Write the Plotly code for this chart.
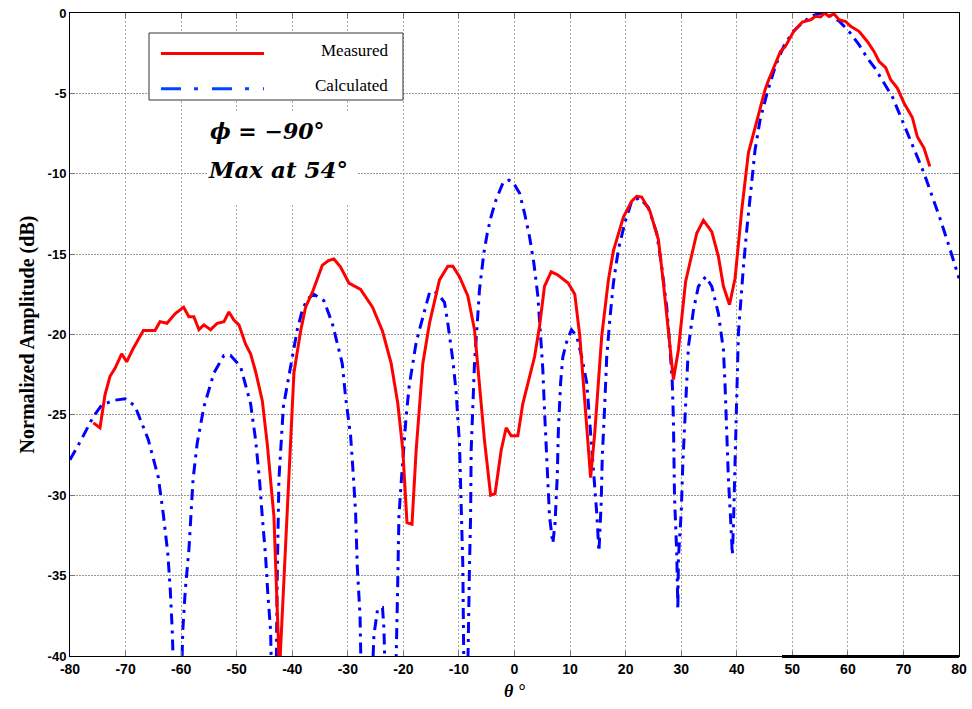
import plotly.graph_objects as go

# ---- data ----
theta_measured = [-75.8, -74.6, -73.7, -72.8, -71.9, -70.7, -69.8, -68.6, -66.8, -64.7,
                  -63.8, -62.55, -61.05, -59.55, -58.6, -57.7, -56.8, -55.9, -54.7, -53.5,
                  -52.3, -51.4, -50.5, -49.6, -48.4, -47.5, -46.6, -45.4, -44.5, -43.3,
                  -42.3, -41.0, -39.7, -38.5, -37.6, -36.4, -34.6, -33.5, -32.5, -31.3,
                  -29.8, -27.7, -25.55, -23.75, -22.2, -21.0, -20.1, -19.35, -18.45, -17.7,
                  -16.5, -15.3, -13.5, -12.0, -11.1, -9.9, -8.4, -7.2, -6.3, -5.4,
                  -4.3, -3.5, -2.4, -1.5, -0.6, 0.6, 1.5, 3.6, 4.5, 5.4,
                  6.6, 7.8, 9.65, 10.85, 11.75, 12.96, 13.7, 14.45, 15.7, 16.9,
                  17.8, 19.6, 21.1, 22.0, 22.9, 24.4, 25.9, 26.8, 27.7, 28.6,
                  29.5, 30.8, 32.8, 34.0, 35.5, 36.7, 37.6, 38.7, 39.7, 40.9,
                  42.1, 43.65, 45.1, 45.75, 47.85, 48.75, 50.25, 51.8, 53.3, 54.2,
                  55.1, 55.8, 56.6, 57.5, 58.4, 59.6, 60.5, 62.0, 63.5, 64.7,
                  65.6, 66.8, 67.7, 68.9, 70.1, 71.6, 72.5, 73.7, 74.75]
amp_measured = [-25.5, -25.8, -23.75, -22.6, -22.1, -21.2, -21.7, -20.85, -19.75, -19.75,
                -19.2, -19.3, -18.7, -18.3, -18.9, -18.9, -19.7, -19.4, -19.7, -19.3,
                -19.2, -18.6, -19.1, -19.4, -20.6, -21.2, -22.3, -24.1, -26.8, -31.3,
                -41.0, -31.5, -22.4, -19.8, -18.3, -17.4, -15.7, -15.4, -15.3, -15.8,
                -16.8, -17.2, -18.3, -19.8, -21.8, -24.3, -27.2, -31.7, -31.8, -27.2,
                -21.8, -19.3, -16.6, -15.75, -15.75, -16.4, -17.6, -19.7, -23.0, -26.6,
                -30.0, -29.9, -27.2, -25.8, -26.3, -26.3, -24.3, -21.4, -19.5, -17.0,
                -16.1, -16.3, -16.8, -17.5, -20.1, -25.5, -28.9, -26.1, -20.1, -16.6,
                -14.8, -12.7, -11.7, -11.4, -11.45, -12.35, -14.1, -16.8, -19.9, -22.8,
                -20.95, -16.7, -13.7, -12.9, -13.6, -15.15, -17.0, -18.15, -16.5, -12.25,
                -8.7, -6.65, -4.77, -4.15, -2.4, -2.08, -1.14, -0.56, -0.42, -0.21,
                -0.25, 0.0, -0.21, -0.05, -0.42, -0.53, -0.83, -1.14, -1.77, -2.39,
                -3.0, -3.4, -4.15, -4.67, -5.6, -6.5, -7.7, -8.4, -9.55]

theta_calculated = [-80.0, -77.9, -75.8, -74.3, -72.2, -70.1, -68.3, -65.9, -64.1, -63.2,
                    -62.4, -61.95, -61.6, -61.0, -60.2, -59.7, -59.25, -58.6, -57.85, -57.1,
                    -55.9, -54.1, -52.3, -51.1, -49.3, -47.5, -46.6, -45.9, -45.4, -44.8,
                    -44.4, -43.9, -43.5, -43.0, -42.7, -42.4, -41.6, -40.3, -39.1, -38.2,
                    -37.3, -36.1, -34.3, -32.8, -31.0, -30.4, -29.5, -29.0, -28.6, -28.3,
                    -27.8, -27.4, -26.0, -25.3, -24.65, -23.75, -23.5, -23.0, -21.6, -21.05,
                    -20.8, -20.35, -19.5, -18.95, -18.35, -17.7, -17.1, -16.2, -15.3, -14.4,
                    -13.5, -12.6, -12.0, -11.1, -10.5, -9.9, -9.6, -9.3, -9.0, -8.6,
                    -8.1, -7.9, -7.8, -7.5, -7.2, -6.7, -6.3, -5.5, -4.9, -4.2,
                    -3.3, -2.0, -1.0, -0.3, 0.9, 1.8, 2.7, 3.5, 4.2, 4.7,
                    5.1, 5.4, 5.7, 6.0, 6.3, 6.9, 7.3, 7.7, 7.9, 8.3,
                    8.7, 9.35, 10.25, 11.2, 12.1, 13.0, 13.6, 14.2, 14.8, 15.2,
                    15.6, 15.8, 16.2, 16.6, 17.2, 17.8, 18.7, 19.9, 21.1, 22.5,
                    24.1, 25.6, 26.5, 27.4, 28.0, 28.4, 28.6, 28.8, 29.2, 29.4,
                    29.5, 30.0, 30.3, 30.7, 31.0, 31.3, 32.2, 33.1, 34.4, 35.5,
                    36.7, 37.6, 37.9, 38.2, 38.5, 38.9, 39.2, 39.4, 39.6, 39.85,
                    40.0, 40.3, 40.7, 41.2, 41.8, 42.6, 43.3, 44.2, 45.45, 46.95,
                    48.45, 49.95, 51.8, 53.6, 55.1, 56.6, 58.4, 60.2, 62.0, 63.5,
                    65.0, 66.5, 68.0, 69.2, 70.7, 72.2, 73.7, 75.2, 76.7, 78.2,
                    79.4, 80.0]
amp_calculated = [-27.8, -26.5, -25.1, -24.4, -24.1, -24.0, -24.45, -26.55, -28.9, -31.2,
                  -33.6, -35.9, -38.4, -45.0, -45.0, -38.4, -35.9, -33.4, -29.0, -26.75,
                  -24.5, -22.4, -21.3, -21.3, -22.0, -24.3, -26.55, -29.0, -31.3, -33.8,
                  -36.1, -38.4, -45.0, -45.0, -35.0, -29.0, -24.5, -22.0, -19.7, -18.5,
                  -17.8, -17.5, -17.9, -19.3, -21.8, -23.9, -26.3, -28.8, -31.1, -34.4,
                  -37.5, -45.0, -45.0, -38.7, -37.1, -37.0, -38.3, -45.0, -45.0, -36.1,
                  -31.3, -29.0, -25.1, -23.2, -21.9, -20.5, -19.7, -18.5, -17.4, -17.3,
                  -17.6, -18.0, -19.3, -21.6, -23.6, -26.8, -30.3, -34.4, -45.0, -45.0,
                  -34.4, -31.3, -27.2, -24.3, -21.8, -19.3, -17.2, -14.9, -13.7, -12.65,
                  -11.6, -10.5, -10.4, -10.5, -11.2, -12.45, -13.9, -15.6, -17.6, -20.1,
                  -22.2, -24.7, -27.2, -29.25, -31.3, -33.0, -31.7, -28.8, -25.9, -23.0,
                  -21.4, -20.5, -19.7, -20.1, -21.4, -23.0, -25.5, -28.4, -31.1, -33.5,
                  -30.5, -27.6, -24.7, -21.4, -18.9, -16.8, -14.7, -13.0, -11.7, -11.5,
                  -12.1, -13.7, -15.8, -18.3, -20.95, -23.0, -25.3, -30.1, -33.6, -37.1,
                  -33.9, -31.1, -28.0, -24.9, -23.1, -20.75, -18.5, -17.0, -16.4, -17.0,
                  -18.7, -20.95, -23.2, -26.6, -29.0, -31.5, -33.7, -31.9, -29.7, -27.0,
                  -23.9, -19.9, -18.0, -15.8, -13.5, -11.0, -8.5, -6.65, -5.0, -3.3,
                  -2.08, -1.24, -0.6, -0.17, 0.0, -0.1, -0.5, -1.14, -1.97, -2.8,
                  -3.5, -4.36, -5.2, -6.2, -7.5, -8.7, -9.96, -11.4, -12.9, -14.5,
                  -15.8, -16.5]

x_ticks = [-80, -70, -60, -50, -40, -30, -20, -10, 0, 10, 20, 30, 40, 50, 60, 70, 80]
y_ticks = [0, -5, -10, -15, -20, -25, -30, -35, -40]
series_names = ["Measured", "Calculated"]

RED = "#ff0000"
BLUE = "#0000ff"
DASHDOT = "11px,6px,3px,6px"

fig = go.Figure()
fig.add_trace(go.Scatter(x=theta_calculated, y=amp_calculated, mode="lines",
                         name=series_names[1],
                         line=dict(color=BLUE, width=3, dash=DASHDOT)))
fig.add_trace(go.Scatter(x=theta_measured, y=amp_measured, mode="lines",
                         name=series_names[0],
                         line=dict(color=RED, width=3)))

# figure fills the page (body margin removed by a post script); plot area = px 70..959 x 13..656
W, H = 972, 709
L, R, T, B = 70, 13, 13, 53
PW, PH = W - L - R, H - T - B


def px2x(px):
    return (px - L) / PW


def py2y(py):
    return 1 - (py - T) / PH


serif = "Liberation Serif, Times New Roman, serif"
wide_serif = "DejaVu Serif, Liberation Serif, serif"
xtickfont = dict(family="Liberation Sans, Arial, sans-serif", size=14, color="black", weight="bold")
ytickfont = dict(family="Liberation Sans, Arial, sans-serif", size=13, color="black", weight="bold")

fig.update_xaxes(range=[-80, 80], tickvals=x_ticks, ticktext=[str(v) for v in x_ticks],
                 showline=True, linecolor="black", linewidth=1, mirror="ticks",
                 ticks="inside", ticklen=5, tickcolor="#777", ticklabeloverflow="allow",
                 showgrid=True, gridcolor="#a8a8a8", gridwidth=1, griddash="2px,2px",
                 zeroline=False, tickfont=xtickfont,
                 title=dict(text="<i><b>θ °</b></i>", standoff=8,
                            font=dict(family=serif, size=18, color="black")))
fig.update_yaxes(range=[-40, 0], tickvals=y_ticks, ticktext=[str(v) for v in y_ticks],
                 showline=True, linecolor="black", linewidth=1, mirror="ticks",
                 ticks="inside", ticklen=5, tickcolor="#777", ticklabeloverflow="allow",
                 showgrid=True, gridcolor="#999999", gridwidth=1, griddash="2px,1px",
                 zeroline=False, tickfont=ytickfont,
                 title=dict(text="<b>Normalized Amplitude (dB)</b>", standoff=7,
                            font=dict(family=serif, size=20, color="black")))

shapes = [
    # legend box
    dict(type="rect", xref="paper", yref="paper", x0=px2x(149), x1=px2x(403), y0=py2y(100), y1=py2y(33),
         line=dict(color="#333", width=1), fillcolor="white", layer="above"),
    dict(type="line", xref="paper", yref="paper", x0=px2x(161), x1=px2x(264), y0=py2y(53.5), y1=py2y(53.5),
         line=dict(color=RED, width=3)),
    dict(type="line", xref="paper", yref="paper", x0=px2x(161), x1=px2x(264), y0=py2y(88.7), y1=py2y(88.7),
         line=dict(color="#0044ff", width=3, dash="20px,13px,4px,14px")),
    # white patch behind the annotation
    dict(type="rect", xref="paper", yref="paper", x0=px2x(207), x1=px2x(357), y0=py2y(205), y1=py2y(112),
         line=dict(width=0), fillcolor="white", layer="above"),
    # thick segment on the bottom axis
    dict(type="line", xref="paper", yref="paper", x0=px2x(782), x1=px2x(959), y0=py2y(656.5), y1=py2y(656.5),
         line=dict(color="black", width=3)),
]

annotations = [
    dict(xref="paper", yref="paper", x=px2x(319), y=py2y(51), xanchor="left", yanchor="middle",
         text=series_names[0], showarrow=False, font=dict(family=serif, size=17, color="black")),
    dict(xref="paper", yref="paper", x=px2x(313), y=py2y(85), xanchor="left", yanchor="middle",
         text=series_names[1], showarrow=False, font=dict(family=serif, size=17, color="black")),
    dict(xref="paper", yref="paper", x=px2x(208), y=py2y(131), xanchor="left", yanchor="middle",
         text="<b><i>ϕ = −90°</i></b>", showarrow=False, font=dict(family=wide_serif, size=22, color="black")),
    dict(xref="paper", yref="paper", x=px2x(206), y=py2y(169), xanchor="left", yanchor="middle",
         text="<b><i>Max at 54°</i></b>", showarrow=False, font=dict(family=wide_serif, size=23, color="black")),
]

fig.update_layout(width=W, height=H, margin=dict(l=L, r=R, t=T, b=B, autoexpand=False),
                  paper_bgcolor="white", plot_bgcolor="white", showlegend=False,
                  shapes=shapes, annotations=annotations)

fig.write_html("out.html", config={"displayModeBar": False},
               post_script="document.body.style.margin='0px';document.body.style.overflow='hidden';")
